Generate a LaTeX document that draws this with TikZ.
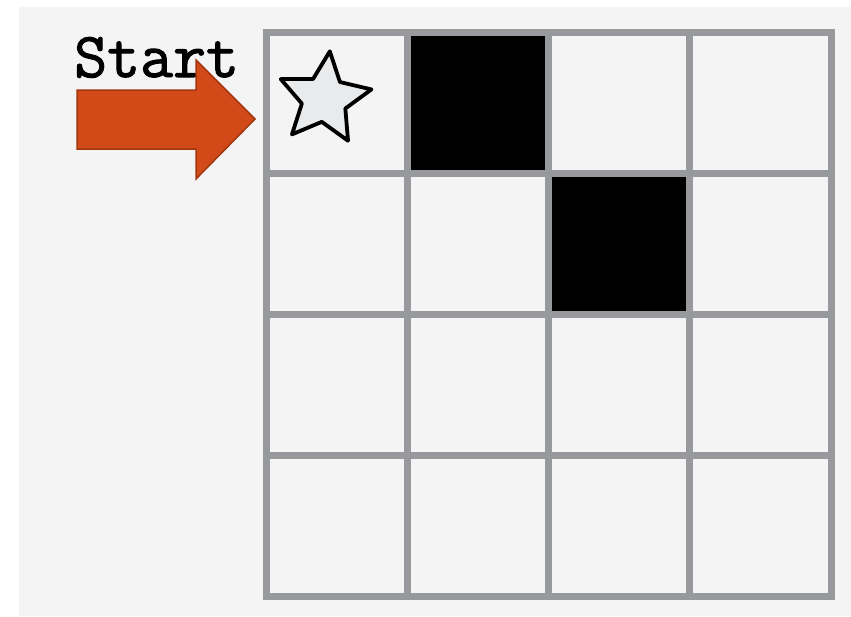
\documentclass[tikz,border=0pt]{standalone}
\usepackage{fontspec}
\newfontfamily\startfont{Latin Modern Mono}[FakeBold=1.6]
\definecolor{bggray}{RGB}{244,244,244}
\definecolor{gridgray}{RGB}{152,153,156}
\definecolor{arrowfill}{RGB}{210,74,24}
\definecolor{arrowedge}{RGB}{160,55,15}
\definecolor{starfill}{RGB}{233,234,236}
\tikzset{
  gridline/.style={draw=gridgray, line width=7pt, line cap=rect},
  blockcell/.style={fill=black},
  startarrow/.style={fill=arrowfill, draw=arrowedge, line width=1.5pt, line join=miter},
  startstar/.style={fill=starfill, draw=black, line width=3.8pt, line join=round},
  label/.style={font=\startfont\fontsize{64}{64}\selectfont, inner sep=0pt, anchor=base west}
}
\begin{document}
\begin{tikzpicture}[x=1pt, y=-1pt]
\useasboundingbox (0,0) rectangle (851,616);
\fill[bggray] (19,7) rectangle (851,616);
% blocked cells
\fill[blockcell] (407.25,32) rectangle (548.5,173);
\fill[blockcell] (548.5,173) rectangle (689.75,314);
% grid
\foreach \i in {0,...,4} {
  \draw[gridline] ({266+141.25*\i},32) -- ({266+141.25*\i},596);
  \draw[gridline] (266,{32+141*\i}) -- (831,{32+141*\i});
}
% label
\node[label] (start) at (74,77) {Start};
% arrow
\coordinate (tip) at (255,119);
\draw[startarrow] (77,90) -- (196,90) -- (196,60) -- (tip) -- (196,179) -- (196,149) -- (77,149) -- cycle;
% star
\begin{scope}[shift={(324.4,99)}]
\draw[startstar] (-83.5:48) -- (-47.5:23) -- (-11.5:48) -- (24.5:23) -- (60.5:48) -- (96.5:23) -- (132.5:48) -- (168.5:23) -- (204.5:48) -- (240.5:23) -- cycle;
\end{scope}
\end{tikzpicture}
\end{document}
